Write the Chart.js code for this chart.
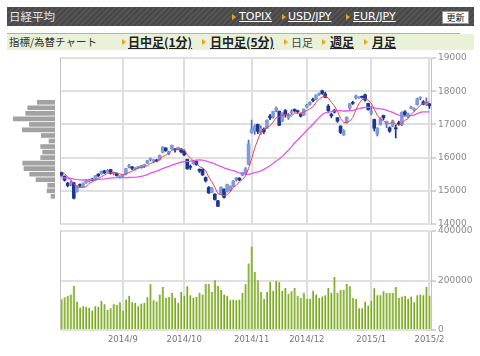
<!DOCTYPE html>
<html><head><meta charset="utf-8">
<script src="https://cdn.jsdelivr.net/npm/chart.js@4.4.1/dist/chart.umd.min.js"></script>
<style>
body{margin:0;background:#fff;width:480px;height:356px;overflow:hidden;position:relative;font-family:"Noto Sans CJK JP","DejaVu Sans",sans-serif;}
#hdr{position:absolute;left:7px;top:7px;width:467px;height:19px;background:repeating-linear-gradient(135deg,#545454 0 2px,#484848 2px 4px);}
.t{position:absolute;white-space:nowrap;}
.h{top:7px;height:19px;line-height:19px;}
.ttl{left:9px;font-size:11.5px;color:#e4e4e4;}
.hl{font-family:"DejaVu Sans",sans-serif;font-size:11px;color:#fff;text-decoration:underline;}
.ar{position:absolute;width:0;height:0;border-top:3px solid transparent;border-bottom:3px solid transparent;border-left:4px solid #f0a020;}
#btn{position:absolute;left:442px;top:11px;width:25px;height:11px;background:#fff;border:1px solid #999;font-size:9px;line-height:11px;text-align:center;color:#111;}
#tab{position:absolute;left:7px;top:34px;width:467px;height:16px;background:#e9f2d8;}
#tabline{position:absolute;left:7px;top:33px;width:453px;height:1px;background:#b0b0b0;}
.tb{top:34px;height:16px;line-height:16px;font-size:12px;color:#222;}
.tl{font-weight:bold;text-decoration:underline;}
canvas{position:absolute;}
</style></head><body>
<div id="hdr"></div>
<div class="t h ttl">日経平均</div>
<div class="ar" style="left:232px;top:14px"></div><div class="t h hl" style="left:239px">TOPIX</div>
<div class="ar" style="left:282px;top:14px"></div><div class="t h hl" style="left:288px">USD/JPY</div>
<div class="ar" style="left:346px;top:14px"></div><div class="t h hl" style="left:353px">EUR/JPY</div>
<div id="btn">更新</div>
<div id="tabline"></div>
<div id="tab"></div>
<div class="t tb" style="left:9px;font-size:10.5px;color:#333">指標/為替チャート</div>
<div class="ar" style="left:122px;top:39px"></div><div class="t tb tl" style="left:128px">日中足(1分)</div>
<div class="ar" style="left:202px;top:39px"></div><div class="t tb tl" style="left:210px">日中足(5分)</div>
<div class="ar" style="left:284px;top:39px"></div><div class="t tb" style="left:291px;font-size:11px;color:#444">日足</div>
<div class="ar" style="left:322px;top:39px"></div><div class="t tb tl" style="left:330px">週足</div>
<div class="ar" style="left:364px;top:39px"></div><div class="t tb tl" style="left:372px">月足</div>

<canvas id="prof" width="58" height="185" style="left:0;top:48px"></canvas>
<canvas id="price" width="480" height="185" style="left:0;top:48px"></canvas>
<canvas id="vol" width="480" height="135" style="left:0;top:221px"></canvas>
<script>
const categories = [
'2014/8/4','2014/8/5','2014/8/6','2014/8/7','2014/8/8','2014/8/11','2014/8/12','2014/8/13','2014/8/14','2014/8/15','2014/8/18','2014/8/19','2014/8/20','2014/8/21','2014/8/22','2014/8/25','2014/8/26','2014/8/27','2014/8/28','2014/8/29',
'2014/9/1','2014/9/2','2014/9/3','2014/9/4','2014/9/5','2014/9/8','2014/9/9','2014/9/10','2014/9/11','2014/9/12','2014/9/16','2014/9/17','2014/9/18','2014/9/19','2014/9/22','2014/9/24','2014/9/25','2014/9/26','2014/9/29','2014/9/30',
'2014/10/1','2014/10/2','2014/10/3','2014/10/6','2014/10/7','2014/10/8','2014/10/9','2014/10/10','2014/10/14','2014/10/15','2014/10/16','2014/10/17','2014/10/20','2014/10/21','2014/10/22','2014/10/23','2014/10/24','2014/10/27','2014/10/28','2014/10/29','2014/10/30','2014/10/31',
'2014/11/4','2014/11/5','2014/11/6','2014/11/7','2014/11/10','2014/11/11','2014/11/12','2014/11/13','2014/11/14','2014/11/17','2014/11/18','2014/11/19','2014/11/20','2014/11/21','2014/11/25','2014/11/26','2014/11/27','2014/11/28',
'2014/12/1','2014/12/2','2014/12/3','2014/12/4','2014/12/5','2014/12/8','2014/12/9','2014/12/10','2014/12/11','2014/12/12','2014/12/15','2014/12/16','2014/12/17','2014/12/18','2014/12/19','2014/12/22','2014/12/24','2014/12/25','2014/12/26','2014/12/29','2014/12/30',
'2015/1/5','2015/1/6','2015/1/7','2015/1/8','2015/1/9','2015/1/13','2015/1/14','2015/1/15','2015/1/16','2015/1/19','2015/1/20','2015/1/21','2015/1/22','2015/1/23','2015/1/26','2015/1/27','2015/1/28','2015/1/29','2015/1/30',
'2015/2/2'];

const opens = [
15550,15440,15230,15180,15240,14980,15190,15130,15240,15300,15350,15320,15500,15520,15600,15580,15640,15520,15520,15420,
15440,15500,15720,15720,15640,15700,15700,15740,15830,15940,15900,15930,15940,16160,16290,16120,16260,16230,16270,16260,
16190,15950,15740,15820,15880,15650,15650,15400,15100,14950,14900,14700,14900,15050,14980,15030,15140,15330,15380,15470,15530,15800,
16750,16800,17000,16750,16850,16880,17250,17220,17430,17400,17100,17420,17200,17350,17450,17400,17300,17280,
17520,17600,17750,17760,17900,18010,17920,17550,17300,17430,17200,16950,16680,17050,17500,17650,17800,17800,17830,17890,17630,
17330,17150,16700,17000,17270,17000,16900,16950,16900,17050,16990,17380,17240,17480,17440,17590,17790,17680,17590,
17620];
const highs = [
15560,15450,15260,15300,15260,15160,15210,15240,15340,15350,15380,15460,15520,15600,15620,15640,15650,15560,15540,15450,
15490,15680,15800,15740,15700,15740,15770,15800,15920,15990,15940,15950,16080,16330,16300,16200,16380,16280,16320,16270,
16230,15950,15780,15900,15900,15660,15660,15420,15130,15100,14920,14710,15120,15060,15200,15150,15310,15400,15400,15560,15700,16530,
17130,16990,17010,16960,16900,17140,17300,17400,17520,17400,17350,17450,17330,17440,17470,17430,17340,17470,
17610,17690,17790,17890,17950,18030,17970,17600,17340,17450,17210,16960,16840,17230,17630,17700,17880,17830,17850,17910,17640,
17540,17160,16900,17200,17280,17100,16930,17130,16980,17100,17380,17420,17340,17550,17500,17790,17830,17720,17800,
17630];
const lows = [
15440,15290,15120,15150,14753,14960,15110,15110,15220,15270,15300,15310,15420,15500,15520,15560,15500,15480,15440,15380,
15400,15480,15690,15640,15620,15670,15680,15700,15820,15900,15850,15870,15920,16140,16190,16090,16250,16160,16230,16140,
16060,15650,15640,15800,15770,15550,15460,15260,14920,14940,14720,14530,14880,14780,14960,14990,15120,15290,15300,15450,15500,15780,
16730,16700,16720,16700,16720,16870,17140,17190,17380,16960,17080,17220,17150,17300,17370,17330,17220,17270,
17500,17580,17680,17740,17870,17900,17800,17360,17200,17340,17060,16720,16670,17040,17450,17600,17760,17780,17790,17700,17430,
17290,16800,16650,16980,17140,16900,16760,16930,16590,16980,16960,17250,17200,17470,17400,17580,17740,17590,17570,
17480];
const closes = [
15474,15320,15159,15232,14778,15130,15161,15213,15314,15318,15322,15449,15454,15586,15539,15613,15521,15534,15459,15424,
15476,15668,15728,15676,15668,15705,15749,15788,15909,15948,15911,15888,16067,16321,16205,16167,16374,16229,16310,16173,
16082,15661,15708,15890,15783,15595,15478,15300,14936,15073,14738,14532,15111,14804,15195,15138,15291,15388,15329,15553,15658,16413,
16862,16937,16792,16880,16780,17124,17197,17392,17490,16973,17344,17288,17300,17357,17407,17383,17248,17459,
17590,17663,17720,17887,17920,17935,17813,17412,17257,17371,17099,16755,16819,17210,17621,17635,17854,17808,17818,17729,17450,
17408,16883,16885,17167,17197,17087,16795,17108,16864,17014,17366,17280,17329,17511,17468,17768,17795,17606,17674,
17558];
const ma5 = [
15576,15517,15419,15342,15193,15124,15092,15103,15119,15227,15266,15323,15371,15426,15470,15528,15543,15559,15533,15510,
15483,15512,15551,15594,15643,15689,15705,15717,15764,15820,15861,15889,15945,16027,16078,16130,16227,16259,16257,16251,
16234,16091,15987,15903,15825,15727,15691,15609,15418,15276,15105,14916,14878,14852,14876,14956,15108,15163,15268,15340,15444,15668,
15963,16285,16532,16777,16850,16903,16955,17075,17197,17235,17279,17297,17279,17252,17339,17347,17339,17371,
17417,17469,17536,17664,17756,17825,17855,17793,17667,17558,17390,17179,17060,17051,17101,17208,17428,17626,17747,17769,17732,
17643,17458,17271,17159,17108,17044,17026,17071,17010,16974,17029,17126,17171,17300,17391,17471,17574,17630,17662,
17680];
const ma25 = [
15380,15386,15379,15374,15351,15339,15330,15326,15327,15331,15337,15343,15345,15354,15360,15376,15384,15392,15399,15397,
15395,15397,15401,15403,15409,15418,15435,15460,15487,15534,15565,15594,15629,15669,15704,15738,15775,15806,15835,15860,
15879,15885,15892,15909,15923,15928,15921,15903,15874,15850,15811,15763,15736,15691,15661,15630,15606,15579,15540,15514,15493,15495,
15520,15545,15570,15602,15647,15703,15755,15820,15896,15955,16037,16131,16220,16325,16440,16531,16629,16719,
16817,16912,17006,17108,17203,17294,17350,17372,17384,17408,17416,17415,17403,17404,17413,17419,17454,17472,17494,17511,17515,
17515,17495,17480,17468,17453,17430,17393,17361,17319,17282,17264,17259,17262,17268,17282,17323,17362,17378,17380,
17377];
const volumes = [
124000,132000,138000,143000,179000,115000,91000,96000,94000,90000,79000,96000,94000,118000,104000,82000,88000,104000,102000,112000,
78000,123000,138000,112000,110000,96000,107000,110000,132000,185000,120000,115000,143000,174000,130000,134000,149000,130000,110000,154000,
138000,177000,140000,130000,134000,151000,143000,186000,186000,154000,201000,178000,162000,143000,138000,120000,123000,120000,123000,149000,185000,269000,
337000,234000,201000,154000,126000,154000,195000,159000,198000,193000,159000,170000,146000,157000,170000,138000,130000,151000,
126000,126000,159000,143000,130000,135000,140000,170000,151000,214000,149000,162000,162000,187000,177000,130000,126000,88000,88000,115000,99000,
118000,169000,140000,140000,157000,151000,149000,149000,174000,130000,135000,138000,126000,135000,112000,140000,143000,140000,174000,
138000];
const tickDates = ['2014/9/1','2014/10/1','2014/11/4','2014/12/1','2015/1/5','2015/2/2'];
const tickLabels = ['2014/9','2014/10','2014/11','2014/12','2015/1','2015/2'];
const priceTicks = [14000,15000,16000,17000,18000,19000];
const volumeTicks = [0,200000,400000];
const profilePrices = [17900,17700,17500,17300,17100,16900,16700,16500,16300,16100,15900,15700,15500,15300,15100,14900,14700,14500];
const profileVolume = [177,273,293,417,257,327,137,60,143,123,143,323,310,253,190,73,80,40];

Chart.defaults.font.family = 'DejaVu Sans';
Chart.defaults.animation = false;

const UP = '#7f9bd8', DOWN = '#1b3592', UPW = '#4c6cc0';
const isUp = closes.map((c,i)=>c>=opens[i]);
const tickIdx = new Map(tickDates.map((d,k)=>[categories.indexOf(d), tickLabels[k]]));

const frame = {id:'frame', beforeDatasetsDraw(chart){
  const {ctx, chartArea:a} = chart; ctx.save(); ctx.strokeStyle='#c4c4c4'; ctx.lineWidth=1;
  ctx.beginPath(); ctx.moveTo(Math.round(a.left)+0.5, a.top); ctx.lineTo(Math.round(a.left)+0.5, a.bottom); ctx.stroke(); ctx.restore(); }};

const xGrid = {offset:false, drawTicks:false, lineWidth:2,
  color: c => tickIdx.has(c.index) ? '#dedede' : 'rgba(0,0,0,0)'};

new Chart(document.getElementById('price'), {
  type:'bar',
  data:{labels:categories, datasets:[
    {type:'line', data:ma5, borderColor:'#ee3f5e', borderWidth:1, pointRadius:0, tension:0, order:0},
    {type:'line', data:ma25, borderColor:'#e255f2', borderWidth:1.3, pointRadius:0, tension:0, order:1},
    {data:opens.map((o,i)=>[o,closes[i]]), backgroundColor:isUp.map(u=>u?UP:DOWN), barThickness:3, grouped:false, minBarLength:1, order:2},
    {data:lows.map((l,i)=>[l,highs[i]]), backgroundColor:isUp.map(u=>u?UPW:DOWN), barThickness:1, grouped:false, order:3}
  ]},
  options:{responsive:false, events:[],
    layout:{padding:{left:60, top:10, bottom:9, right:0}},
    plugins:{legend:{display:false}, tooltip:{enabled:false}},
    scales:{
      x:{grid:xGrid, ticks:{display:false}, border:{display:false}, afterFit:s=>{s.height=0;}},
      y:{position:'right', min:14000, max:19000,
        afterBuildTicks:s=>{s.ticks = priceTicks.map(v=>({value:v}));},
        grid:{color:'#e0e0e0', lineWidth:2, tickColor:'#aaa', tickWidth:1, tickLength:5},
        border:{display:true, color:'#c4c4c4', width:1},
        ticks:{color:'#888', font:{size:9}, padding:2, callback:v=>String(v)},
        afterFit:s=>{s.width=49;}}
    }},
  plugins:[frame]
});

new Chart(document.getElementById('vol'), {
  type:'bar',
  data:{labels:categories, datasets:[
    {data:volumes, backgroundColor:'#7ba628', borderColor:'#bcd880', borderWidth:{left:1,top:0,right:0,bottom:0}, borderSkipped:false, barThickness:2}
  ]},
  options:{responsive:false, events:[],
    layout:{padding:{left:60, top:10, bottom:0, right:0}},
    plugins:{legend:{display:false}, tooltip:{enabled:false}},
    scales:{
      x:{grid:xGrid, border:{display:false},
        ticks:{autoSkip:false, maxRotation:0, color:'#777', font:{size:8.5}, padding:5,
          callback:(v,i)=> tickIdx.has(i) ? tickIdx.get(i) : ''},
        afterFit:s=>{s.height=26;}},
      y:{position:'right', min:0, max:400000,
        afterBuildTicks:s=>{s.ticks = volumeTicks.map(v=>({value:v}));},
        grid:{color:'#e0e0e0', lineWidth:2, tickColor:'#aaa', tickWidth:1, tickLength:5},
        border:{display:true, color:'#c4c4c4', width:1},
        ticks:{color:'#888', font:{size:9}, padding:2, callback:v=>String(v)},
        afterFit:s=>{s.width=49;}}
    }},
  plugins:[frame]
});

new Chart(document.getElementById('prof'), {
  type:'bar',
  data:{datasets:[{data:profilePrices.map((p,i)=>({x:profileVolume[i], y:p})), backgroundColor:'#a2a2a2', barThickness:4}]},
  options:{responsive:false, events:[], indexAxis:'y',
    layout:{padding:{left:0, top:10, bottom:9, right:3}},
    plugins:{legend:{display:false}, tooltip:{enabled:false}},
    scales:{
      x:{type:'linear', min:0, max:550, reverse:true, display:false},
      y:{type:'linear', min:14000, max:19000, display:false}
    }}
});
</script>
</body></html>
